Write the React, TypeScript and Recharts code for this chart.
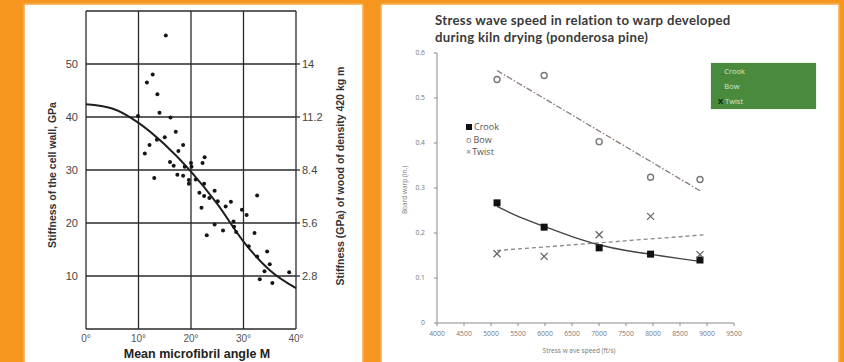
import React from 'react';
import {
  ComposedChart,
  Scatter,
  Line,
  XAxis,
  YAxis,
  CartesianGrid
} from 'recharts';

// left chart: microfibril angle vs stiffness
const ANGLE_TICKS = [0, 10, 20, 30, 40];
const STIFF_TICKS = [0, 10, 20, 30, 40, 50, 60];
const WOOD_TICKS = [2.8, 5.6, 8.4, 11.2, 14];

const angleX = [15.2, 11.6, 12.7, 13.6, 14.0, 9.9, 16.1, 11.2, 12.1, 13.5, 15.0, 17.1, 13.0, 16.0, 16.7, 17.6, 18.5, 17.4, 18.5, 18.8, 19.6, 19.6, 20.0, 20.1, 20.9, 22.2, 22.6, 21.6, 22.5, 22.5, 23.5, 22.0, 24.5, 25.1, 23.0, 24.5, 26.1, 26.6, 27.6, 28.1, 28.2, 28.6, 29.7, 30.6, 32.6, 32.1, 31.0, 32.6, 34.5, 35.0, 34.0, 33.1, 35.5, 38.7];
const stiffY = [55.4, 46.5, 48.0, 44.3, 40.8, 40.2, 39.9, 33.1, 34.7, 35.7, 36.2, 37.2, 28.5, 31.5, 30.8, 33.6, 34.7, 29.1, 28.9, 30.6, 28.1, 27.4, 31.3, 30.6, 28.2, 31.3, 32.4, 25.7, 27.4, 25.1, 24.7, 22.9, 26.1, 24.1, 17.7, 19.7, 18.6, 23.1, 24.0, 20.3, 19.3, 18.3, 22.5, 21.5, 25.2, 18.1, 15.6, 13.7, 14.6, 12.2, 10.9, 9.4, 8.7, 10.7];

const fitAngle = [0, 5, 10, 15, 20, 25, 30, 35, 40];
const fitStiff = [42.4, 41.6, 38.9, 34.8, 29.7, 23.6, 16.5, 11.1, 7.7];

// right chart: stress wave speed vs warp
const SPEED_TICKS = [4000, 4500, 5000, 5500, 6000, 6500, 7000, 7500, 8000, 8500, 9000, 9500];
const WARP_TICKS = [0, 0.1, 0.2, 0.3, 0.4, 0.5, 0.6];
const speeds = [5112, 5984, 7003, 7955, 8870];
const crook = [0.267, 0.213, 0.167, 0.153, 0.140];
const bow = [0.541, 0.550, 0.403, 0.324, 0.319];
const twist = [0.154, 0.148, 0.196, 0.237, 0.152];

const crookFitX = [5112, 5500, 6000, 6500, 7000, 7500, 8000, 8500, 8870];
const crookFitY = [0.259, 0.237, 0.214, 0.192, 0.174, 0.161, 0.152, 0.143, 0.137];
const bowFitX = [5112, 8870];
const bowFitY = [0.561, 0.294];
const twistFitX = [5112, 8960];
const twistFitY = [0.161, 0.196];

const ORANGE = '#f6961e';
const ARIAL = '"Liberation Sans", Arial, sans-serif';
const MYRIAD = '"Open Sans", "Noto Sans", sans-serif';

const zip = (xs: number[], ys: number[]) => xs.map((x, i) => ({ x, y: ys[i] }));

const stiffPts = zip(angleX, stiffY);
const stiffFit = zip(fitAngle, fitStiff);
// invisible series so the right-hand (wood stiffness) axis is drawn
const woodAnchor = zip(ANGLE_TICKS, WOOD_TICKS);
const crookPts = zip(speeds, crook);
const bowPts = zip(speeds, bow);
const twistPts = zip(speeds, twist);

const Dot = (p: any) => <circle cx={p.cx} cy={p.cy} r={2} fill="#151515" />;
const Square = (p: any) => <rect x={p.cx - 3.5} y={p.cy - 3.5} width={7} height={7} fill="#111" />;
const Ring = (p: any) => <circle cx={p.cx} cy={p.cy} r={3} fill="#fff" stroke="#777" strokeWidth={1.4} />;
const Cross = (p: any) => (
  <g stroke="#666" strokeWidth={1.3}>
    <line x1={p.cx - 3.5} y1={p.cy - 3.5} x2={p.cx + 3.5} y2={p.cy + 3.5} />
    <line x1={p.cx - 3.5} y1={p.cy + 3.5} x2={p.cx + 3.5} y2={p.cy - 3.5} />
  </g>
);

const abs = (left: number, top: number, extra: React.CSSProperties = {}): React.CSSProperties => ({
  position: 'absolute', left, top, whiteSpace: 'nowrap', ...extra
});

const titleStyle: React.CSSProperties = {
  fontFamily: 'Lato, "Open Sans", sans-serif', fontWeight: 700, fontSize: 13.2, lineHeight: '15px', letterSpacing: 0.3, color: '#3a3a3a'
};

export default function App() {
  return (
    <div style={{ position: 'relative', width: 844, height: 362, background: ORANGE, overflow: 'hidden' }}>
      <style>{'body{margin:0}'}</style>
      <div style={abs(25, 5, { width: 337, height: 357, background: '#fff', boxShadow: '0 0 2px 1px rgba(255,215,160,0.9)' })} />
      <div style={abs(382, 5, { width: 456, height: 357, background: '#fff', boxShadow: '0 0 2px 1px rgba(255,215,160,0.9)' })} />

      {/* left chart */}
      <div style={abs(0, 0)}>
        <ComposedChart width={380} height={362} margin={{ top: 11, right: 44, bottom: 8, left: 56 }}>
          <CartesianGrid yAxisId="left" stroke="#2a2a2a" strokeWidth={1.3} />
          <XAxis
            type="number"
            dataKey="x"
            domain={[0, 40]}
            ticks={ANGLE_TICKS}
            tickFormatter={(v) => `${v}°`}
            axisLine={false}
            tickLine={false}
            tickSize={4}
            height={25}
            tick={{ fontSize: 10, fill: '#555', fontFamily: ARIAL }}
          />
          <YAxis
            yAxisId="left"
            type="number"
            dataKey="y"
            domain={[0, 60]}
            ticks={STIFF_TICKS}
            tickFormatter={(v) => (v === 0 || v === 60 ? '' : String(v))}
            axisLine={false}
            tickLine={false}
            width={30}
            tick={{ fontSize: 11, fill: '#444', fontFamily: ARIAL }}
          />
          <YAxis
            yAxisId="right"
            orientation="right"
            type="number"
            dataKey="y"
            domain={[0, 16.8]}
            ticks={WOOD_TICKS}
            axisLine={false}
            tickLine={{ stroke: '#2a2a2a', strokeWidth: 1.3 }}
            tickSize={4}
            width={40}
            tick={{ fontSize: 11, fill: '#444', fontFamily: ARIAL }}
          />
          <Line
            yAxisId="right"
            data={woodAnchor}
            dataKey="y"
            stroke="transparent"
            dot={false}
            activeDot={false}
            legendType="none"
            isAnimationActive={false}
          />
          <Scatter yAxisId="left" data={stiffPts} shape={Dot} isAnimationActive={false} />
          <Line
            yAxisId="left"
            data={stiffFit}
            dataKey="y"
            type="monotone"
            stroke="#1e1e1e"
            strokeWidth={2}
            dot={false}
            isAnimationActive={false}
          />
        </ComposedChart>
      </div>
      <div style={abs(52, 175, { transform: 'translate(-50%,-50%) rotate(-90deg)', fontFamily: ARIAL, fontWeight: 700, fontSize: 10.5, color: '#333' })}>
        Stiffness of the cell wall, GPa
      </div>
      <div style={abs(340, 176, { transform: 'translate(-50%,-50%) rotate(-90deg)', fontFamily: ARIAL, fontWeight: 700, fontSize: 10.5, color: '#333' })}>
        Stiffness (GPa) of wood of density 420 kg m
      </div>
      <div style={abs(197, 354, { transform: 'translate(-50%,-50%)', fontFamily: ARIAL, fontWeight: 700, fontSize: 12.5, color: '#222' })}>
        Mean microfibril angle M
      </div>

      {/* right chart */}
      <div style={abs(435, 13, titleStyle)}>Stress wave speed in relation to warp developed</div>
      <div style={abs(435, 29.5, titleStyle)}>during kiln drying (ponderosa pine)</div>
      <div style={abs(380, 0)}>
        <ComposedChart width={464} height={362} margin={{ top: 53, right: 110, bottom: 19, left: 37 }}>
          <XAxis
            type="number"
            dataKey="x"
            domain={[4000, 9500]}
            ticks={SPEED_TICKS}
            axisLine={{ stroke: '#8a8a8a' }}
            tickLine={{ stroke: '#8a8a8a' }}
            tickSize={3}
            tickMargin={5}
            height={20}
            tick={{ fontSize: 6.8, fill: '#777', fontFamily: MYRIAD }}
          />
          <YAxis
            type="number"
            dataKey="y"
            domain={[0, 0.6]}
            ticks={WARP_TICKS}
            axisLine={{ stroke: '#8a8a8a' }}
            tickLine={{ stroke: '#8a8a8a' }}
            tickSize={3}
            tickMargin={9}
            width={20}
            tick={{ fontSize: 6.8, fill: '#777', fontFamily: MYRIAD }}
          />
          <Line data={zip(bowFitX, bowFitY)} dataKey="y" type="linear" stroke="#8b7d76" strokeWidth={1.3} strokeDasharray="6 2 1.5 2" dot={false} isAnimationActive={false} />
          <Line data={zip(twistFitX, twistFitY)} dataKey="y" type="linear" stroke="#888" strokeWidth={1.3} strokeDasharray="4 3" dot={false} isAnimationActive={false} />
          <Line data={zip(crookFitX, crookFitY)} dataKey="y" type="monotone" stroke="#444" strokeWidth={1.4} dot={false} isAnimationActive={false} />
          <Scatter name="Crook" data={crookPts} shape={Square} isAnimationActive={false} />
          <Scatter name="Bow" data={bowPts} shape={Ring} isAnimationActive={false} />
          <Scatter name="Twist" data={twistPts} shape={Cross} isAnimationActive={false} />
        </ComposedChart>
      </div>
      <div style={abs(404, 190, { transform: 'translate(-50%,-50%) rotate(-90deg)', fontFamily: MYRIAD, fontSize: 6.5, color: '#777' })}>
        Board warp (in.)
      </div>
      <div style={abs(579, 350, { transform: 'translate(-50%,-50%)', fontFamily: MYRIAD, fontSize: 6.5, color: '#777' })}>
        Stress w ave speed (ft/s)
      </div>

      {/* legend inside plot */}
      <div style={abs(466, 121, { fontFamily: MYRIAD, fontSize: 9, lineHeight: '12.7px', color: '#555' })}>
        <div><span style={{ display: 'inline-block', width: 6, height: 6, background: '#111', marginRight: 2 }} />Crook</div>
        <div><span style={{ color: '#777', marginRight: 2 }}>o</span>Bow</div>
        <div><span style={{ color: '#777', marginRight: 1 }}>×</span>Twist</div>
      </div>

      {/* green legend box */}
      <div style={abs(711, 63, { width: 105, height: 46, background: '#4a8a3c', boxShadow: '0 0 1px #9fc294', fontFamily: MYRIAD, fontSize: 7.5, color: '#d6e7cf' })}>
        <div style={abs(10, 3)}><span style={{ color: '#2f5f26' }}>_</span>Crook</div>
        <div style={abs(10, 18)}><span style={{ color: '#2f5f26' }}>_</span>Bow</div>
        <div style={abs(7, 33)}><span style={{ color: '#111', fontWeight: 700, marginRight: 2 }}>X</span>Twist</div>
      </div>
    </div>
  );
}
